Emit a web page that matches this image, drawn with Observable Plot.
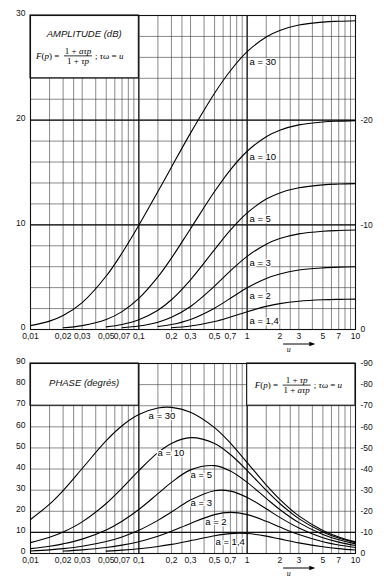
<!DOCTYPE html>
<html><head><meta charset="utf-8">
<script src="https://cdn.jsdelivr.net/npm/d3@7"></script>
<script src="https://cdn.jsdelivr.net/npm/@observablehq/plot@0.6"></script>
<style>
body{margin:0;background:#fff;}
#c{position:relative;width:388px;height:582px;overflow:hidden;background:#fff;}
#top,#bot{position:absolute;left:0;}
#top{top:0}
#bot{top:355px}
svg{overflow:visible}
</style></head><body><div id="c"><div id="top"></div><div id="bot"></div></div>
<script>
// ---- data ----
const U = [0.01, 0.015, 0.02, 0.03, 0.05, 0.07, 0.1, 0.15, 0.2, 0.3, 0.5, 0.7, 1, 1.5, 2, 3, 5, 7, 10];
const aNames = ["30", "10", "5", "3", "2", "1,4"];

// amplitude (dB)
const amp30  = [0.37,0.80,1.33,2.57,5.11,7.31,9.96,13.18,15.51,18.76,22.57,24.72,26.54,27.95,28.57,29.09,29.37,29.45,29.50];
const amp10  = [null,null,0.17,0.37,0.96,1.71,2.97,5.02,6.82,9.63,13.18,15.26,17.03,18.42,19.04,19.55,19.83,19.91,19.96];
const amp5   = [null,null,null,null,0.25,0.48,0.93,1.84,2.84,4.75,7.63,9.49,11.14,12.46,13.05,13.54,13.82,13.90,13.94];
const amp3   = [null,null,null,null,null,0.17,0.33,0.70,1.17,2.20,4.15,5.60,6.99,8.15,8.69,9.14,9.39,9.46,9.50];
const amp2   = [null,null,null,null,null,null,null,0.28,0.47,0.96,2.04,2.98,3.98,4.88,5.31,5.68,5.89,5.96,5.99];
const amp14  = [null,null,null,null,null,null,null,null,0.16,0.33,0.76,1.19,1.70,2.21,2.47,2.70,2.84,2.88,2.90];

// phase (degrees)
const ph30 = [16.13,23.37,29.82,40.27,53.45,60.53,65.85,68.94,69.23,66.96,59.62,52.28,43.09,32.42,25.61,17.80,10.93,7.86,5.52];
const ph10 = [5.14,7.67,10.16,14.98,23.70,30.99,39.29,47.78,52.13,54.87,52.13,46.88,39.29,29.88,23.70,16.53,10.16,7.31,5.14];
const ph5  = [2.29,3.43,4.57,6.81,11.17,15.29,20.85,28.34,33.69,39.61,41.63,39.06,33.69,26.10,20.85,14.62,9.02,6.49,4.57];
const ph3  = [1.15,1.72,2.29,3.43,5.67,7.86,10.99,15.70,19.65,25.29,29.75,29.55,26.57,21.16,17.10,12.10,7.50,5.40,3.80];
const ph2  = [null,null,1.15,1.72,2.85,3.97,5.60,8.17,10.49,14.26,18.43,19.47,18.43,15.26,12.53,8.97,5.60,4.04,2.85];
const ph14 = [null,null,null,null,1.14,1.59,2.26,3.33,4.33,6.08,8.43,9.43,9.46,8.23,6.91,5.04,3.18,2.30,1.63];

// curve label positions
const ampLabelU = [1.05, 1.05, 1.05, 1.05, 1.05, 1.05];
const ampLabelV = [25.6, 16.5, 10.6, 6.4, 3.2, 0.8];
const phLabelU  = [0.123, 0.149, 0.30, 0.30, 0.41, 0.51];
const phLabelV  = [65, 47.4, 37, 24, 15, 5.3];

// ticks and grid
const xTicks = [0.01,0.02,0.03,0.05,0.07,0.1,0.2,0.3,0.5,0.7,1,2,3,5,7,10];
const gridU = [0.01,0.015,0.02,0.025,0.03,0.04,0.05,0.06,0.07,0.08,0.09,
               0.1,0.15,0.2,0.25,0.3,0.4,0.5,0.6,0.7,0.8,0.9,
               1,1.5,2,2.5,3,4,5,6,7,8,9,10];
const boldU = [0.1, 1];
const ampGrid = [0,2,4,6,8,10,12,14,16,18,20,22,24,26,28,30];
const ampBold = [10, 20];
const ampTicksL = [0, 10, 20, 30];
const ampTicksR = [0, 10, 20];
const phGrid = [0,10,20,30,40,50,60,70,80,90];
const phBold = [10];
const phTicksL = [0,10,20,30,40,50,60,70,80,90];
const phTicksR = [0,10,20,30,40,50,60,70,80,90];

const ampBoxes = [{x1: 0.01, x2: 0.1, y1: 24, y2: 30}];
const phBoxes  = [{x1: 0.01, x2: 0.1, y1: 70, y2: 90}, {x1: 1, x2: 10, y1: 70, y2: 90}];

// ---- helpers ----
const fmtX = d => String(d).replace(".", ",");
const fmtR = d => d === 0 ? "0" : "-" + d;
const SANS = "'Liberation Sans', Arial, sans-serif";
const SERIF = "'Liberation Serif', 'Times New Roman', serif";

function seriesRows(arrs) {
  const rows = [];
  arrs.forEach((vals, k) => U.forEach((u, i) => rows.push({a: aNames[k], u, v: vals[i]})));
  return rows;
}

function panel(o) {
  const rows = seriesRows(o.series);
  const labels = aNames.map((a, k) => ({t: "a = " + a, u: o.labelU[k], v: o.labelV[k]}));
  return Plot.plot({
    width: 388, height: o.height,
    marginTop: o.marginTop, marginBottom: o.marginBottom, marginLeft: 30, marginRight: 33,
    style: {fontFamily: SANS, fontSize: "8.5px", background: "white", color: "#111"},
    x: {type: "log", domain: [0.01, 10], axis: null},
    y: {domain: o.yDomain},
    marks: [
      Plot.ruleX(gridU, {stroke: "#3a3a3a", strokeWidth: 0.6}),
      Plot.ruleX(boldU, {stroke: "#111", strokeWidth: 1.2}),
      Plot.ruleY(o.hGrid, {stroke: "#3a3a3a", strokeWidth: 0.6}),
      Plot.ruleY(o.hBold, {stroke: "#111", strokeWidth: 1.2}),
      Plot.rect(o.boxes, {x1: "x1", x2: "x2", y1: "y1", y2: "y2", fill: "white", stroke: "#111", strokeWidth: 1.1}),
      Plot.frame({stroke: "#111", strokeWidth: 1.1}),
      Plot.line(rows, {x: "u", y: "v", z: "a", curve: "catmull-rom", stroke: "#000", strokeWidth: 1.1}),
      Plot.text(labels, {x: "u", y: "v", text: "t", textAnchor: "start", fill: "#000",
        stroke: "white", strokeWidth: 2.5, paintOrder: "stroke", fontSize: 9.5, fontFamily: SANS}),
      Plot.text(xTicks, {x: d => d, text: fmtX, frameAnchor: "bottom", dy: 9.5, fill: "#111", fontSize: 8.5}),
      Plot.axisY({ticks: o.ticksL, tickSize: 0, tickPadding: 5, dy: -2, label: null}),
      Plot.axisY({anchor: "right", ticks: o.ticksR, tickFormat: fmtR, tickSize: 0, tickPadding: 5, label: null})
    ]
  });
}

// fraction formula, laid out left to right from x0
function formula(svg, x0, yBar, num, den) {
  const g = svg.append("g").attr("font-family", SERIF).attr("font-size", 9).attr("fill", "#000")
    .attr("text-anchor", "start");
  g.append("text").attr("x", x0).attr("y", yBar + 3.2)
    .html('<tspan font-style="italic">F</tspan>(<tspan font-style="italic">p</tspan>) =');
  const fx = x0 + 42;
  g.append("text").attr("x", fx).attr("y", yBar - 2.2).attr("text-anchor", "middle").html(num);
  g.append("text").attr("x", fx).attr("y", yBar + 8.3).attr("text-anchor", "middle").html(den);
  g.append("line").attr("x1", x0 + 28).attr("x2", x0 + 56).attr("y1", yBar).attr("y2", yBar)
    .attr("stroke", "#000").attr("stroke-width", 0.8);
  g.append("text").attr("x", x0 + 59).attr("y", yBar + 3.2)
    .html('; <tspan font-style="italic">τω</tspan> = <tspan font-style="italic">u</tspan>');
}

function uArrow(svg, xs, yPix) {
  const x1 = xs.apply(2.17), x2 = xs.apply(4.3);
  svg.append("line").attr("x1", x1).attr("x2", x2 - 4).attr("y1", yPix).attr("y2", yPix)
    .attr("stroke", "#000").attr("stroke-width", 1);
  svg.append("path").attr("d", `M${x2},${yPix} L${x2 - 6},${yPix - 2.2} L${x2 - 6},${yPix + 2.2} Z`).attr("fill", "#000");
  svg.append("text").attr("x", xs.apply(2.45)).attr("y", yPix + 8).attr("text-anchor", "middle")
    .attr("font-family", SERIF).attr("font-style", "italic").attr("font-size", 8).text("u");
}

// ---- amplitude panel ----
const topPlot = panel({
  height: 355, marginTop: 15, marginBottom: 26, yDomain: [0, 30],
  hGrid: ampGrid, hBold: ampBold, ticksL: ampTicksL, ticksR: ampTicksR,
  series: [amp30, amp10, amp5, amp3, amp2, amp14],
  labelU: ampLabelU, labelV: ampLabelV, boxes: ampBoxes
});
document.getElementById("top").appendChild(topPlot);
{
  const svg = d3.select(topPlot), xs = topPlot.scale("x"), ys = topPlot.scale("y");
  const cx = (xs.apply(0.01) + xs.apply(0.1)) / 2;
  svg.append("text").attr("x", cx).attr("y", ys.apply(28.2)).attr("text-anchor", "middle")
    .attr("dy", "0.35em").attr("font-family", SANS).attr("font-style", "italic").attr("font-size", 9.5)
    .text("AMPLITUDE (dB)");
  formula(svg, xs.apply(0.01) + 6, ys.apply(26) - 1,
    '1 + <tspan font-style="italic">aτp</tspan>', '1 + <tspan font-style="italic">τp</tspan>');
  uArrow(svg, xs, ys.apply(0) + 15);
}

// ---- phase panel ----
const botPlot = panel({
  height: 227, marginTop: 8, marginBottom: 29, yDomain: [0, 90],
  hGrid: phGrid, hBold: phBold, ticksL: phTicksL, ticksR: phTicksR,
  series: [ph30, ph10, ph5, ph3, ph2, ph14],
  labelU: phLabelU, labelV: phLabelV, boxes: phBoxes
});
document.getElementById("bot").appendChild(botPlot);
{
  const svg = d3.select(botPlot), xs = botPlot.scale("x"), ys = botPlot.scale("y");
  const cx = (xs.apply(0.01) + xs.apply(0.1)) / 2;
  svg.append("text").attr("x", cx).attr("y", ys.apply(80.5)).attr("text-anchor", "middle")
    .attr("dy", "0.35em").attr("font-family", SANS).attr("font-style", "italic").attr("font-size", 9.5)
    .text("PHASE (degrés)");
  formula(svg, xs.apply(1) + 8, ys.apply(80) + 1,
    '1 + <tspan font-style="italic">τp</tspan>', '1 + <tspan font-style="italic">aτp</tspan>');
  uArrow(svg, xs, ys.apply(0) + 15);
}
</script></body></html>
